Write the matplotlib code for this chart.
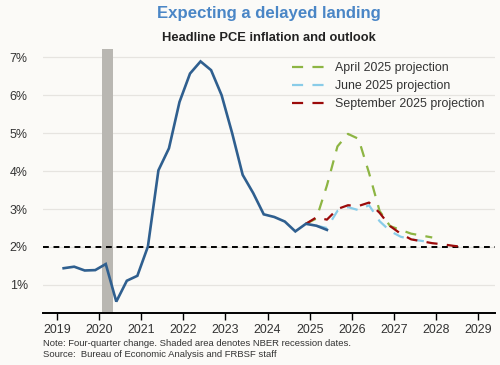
#!/usr/bin/env python

import numpy as np
import pandas as pd
import matplotlib
matplotlib.use('Agg')
import matplotlib.pyplot as plt

# Headline PCE, four-quarter change (%), quarterly
hist_quarters = pd.period_range('2019Q1', '2025Q2', freq='Q')
hist_values = [1.44, 1.48, 1.38, 1.39, 1.55, 0.56, 1.11, 1.24, 2.01, 4.02,
               4.60, 5.82, 6.57, 6.89, 6.66, 6.00, 5.00, 3.90, 3.42, 2.86,
               2.79, 2.67, 2.41, 2.61, 2.56, 2.45]

# projections
april_quarters = pd.period_range('2024Q4', '2027Q4', freq='Q')
april_values = [2.61, 2.75, 3.62, 4.65, 4.98, 4.85, 3.95, 2.95, 2.55, 2.45,
                2.35, 2.30, 2.25]

june_quarters = pd.period_range('2025Q1', '2027Q4', freq='Q')
june_values = [2.56, 2.50, 2.95, 3.05, 2.97, 3.10, 2.68, 2.42, 2.27, 2.20,
               2.16, 2.12]

sept_quarters = pd.period_range('2024Q4', '2028Q3', freq='Q')
sept_values = [2.61, 2.78, 2.72, 3.00, 3.10, 3.08, 3.17, 2.90, 2.55, 2.35,
               2.20, 2.15, 2.10, 2.07, 2.03, 2.00]

recession = (2020.08, 2020.33)
target = 2.0

year_ticks = list(range(2019, 2030))
pct_ticks = [1, 2, 3, 4, 5, 6, 7]


def quarter_x(periods, offset=0.16):
    return np.array([p.year + (p.quarter - 1) / 4.0 + offset for p in periods])


bg = '#fbfaf7'
plt.rcParams['font.family'] = ['Liberation Sans', 'DejaVu Sans']

fig = plt.figure(figsize=(5.0, 3.65), dpi=100, facecolor=bg)
ax = fig.add_axes([0.086, 0.1425, 0.904, 0.7225], facecolor=bg)

ax.axvspan(recession[0], recession[1], color='#b9b7b2', lw=0, zorder=1)

for y in pct_ticks:
    ax.axhline(y, color='#e6e4e0', lw=0.9, zorder=0)

ax.axhline(target, color='black', lw=1.4, dashes=(3.0, 2.4), zorder=2)

dash = (5.0, 4.2)
ax.plot(quarter_x(april_quarters), april_values, color='#8db543', lw=1.6,
        dashes=dash, label='April 2025 projection', zorder=3)
ax.plot(quarter_x(june_quarters), june_values, color='#89cce8', lw=1.6,
        dashes=dash, label='June 2025 projection', zorder=4)
ax.plot(quarter_x(sept_quarters), sept_values, color='#9b0a0a', lw=1.6,
        dashes=dash, label='September 2025 projection', zorder=5)
ax.plot(quarter_x(hist_quarters), hist_values, color='#2f5f8f', lw=1.9,
        zorder=6, solid_joinstyle='miter')

ax.set_xlim(2018.67, 2029.4)
ax.set_ylim(0.26, 7.21)

ax.set_xticks(year_ticks)
ax.set_xticklabels([str(y) for y in year_ticks])
ax.set_yticks(pct_ticks)
ax.set_yticklabels(['%d%%' % y for y in pct_ticks])

for side in ['left', 'right', 'top']:
    ax.spines[side].set_visible(False)
ax.spines['bottom'].set_linewidth(1.4)
ax.spines['bottom'].set_color('black')

ax.tick_params(axis='x', direction='out', length=5, width=1.0, color='black',
               labelsize=8.9, labelcolor='#333333', pad=3)
ax.tick_params(axis='y', length=0, labelsize=8.9, labelcolor='#333333', pad=11)

leg = ax.legend(loc='upper left', bbox_to_anchor=(0.55, 0.952), frameon=False,
                fontsize=8.9, handlelength=2.7, handletextpad=0.8,
                labelspacing=0.5, borderaxespad=0, borderpad=0)
for txt in leg.get_texts():
    txt.set_color('#333333')

fig.text(0.538, 0.962, 'Expecting a delayed landing', ha='center', va='center',
         fontsize=12.1, fontweight='bold', color='#4a86c6')
fig.text(0.538, 0.895, 'Headline PCE inflation and outlook', ha='center',
         va='center', fontsize=9.3, fontweight='bold', color='#222222')

fig.text(0.086, 0.06, 'Note: Four-quarter change. Shaded area denotes NBER recession dates.',
         ha='left', va='center', fontsize=6.8, color='#333333')
fig.text(0.086, 0.03, 'Source:  Bureau of Economic Analysis and FRBSF staff',
         ha='left', va='center', fontsize=6.8, color='#333333')

fig.savefig('out.png', dpi=100, facecolor=bg)
